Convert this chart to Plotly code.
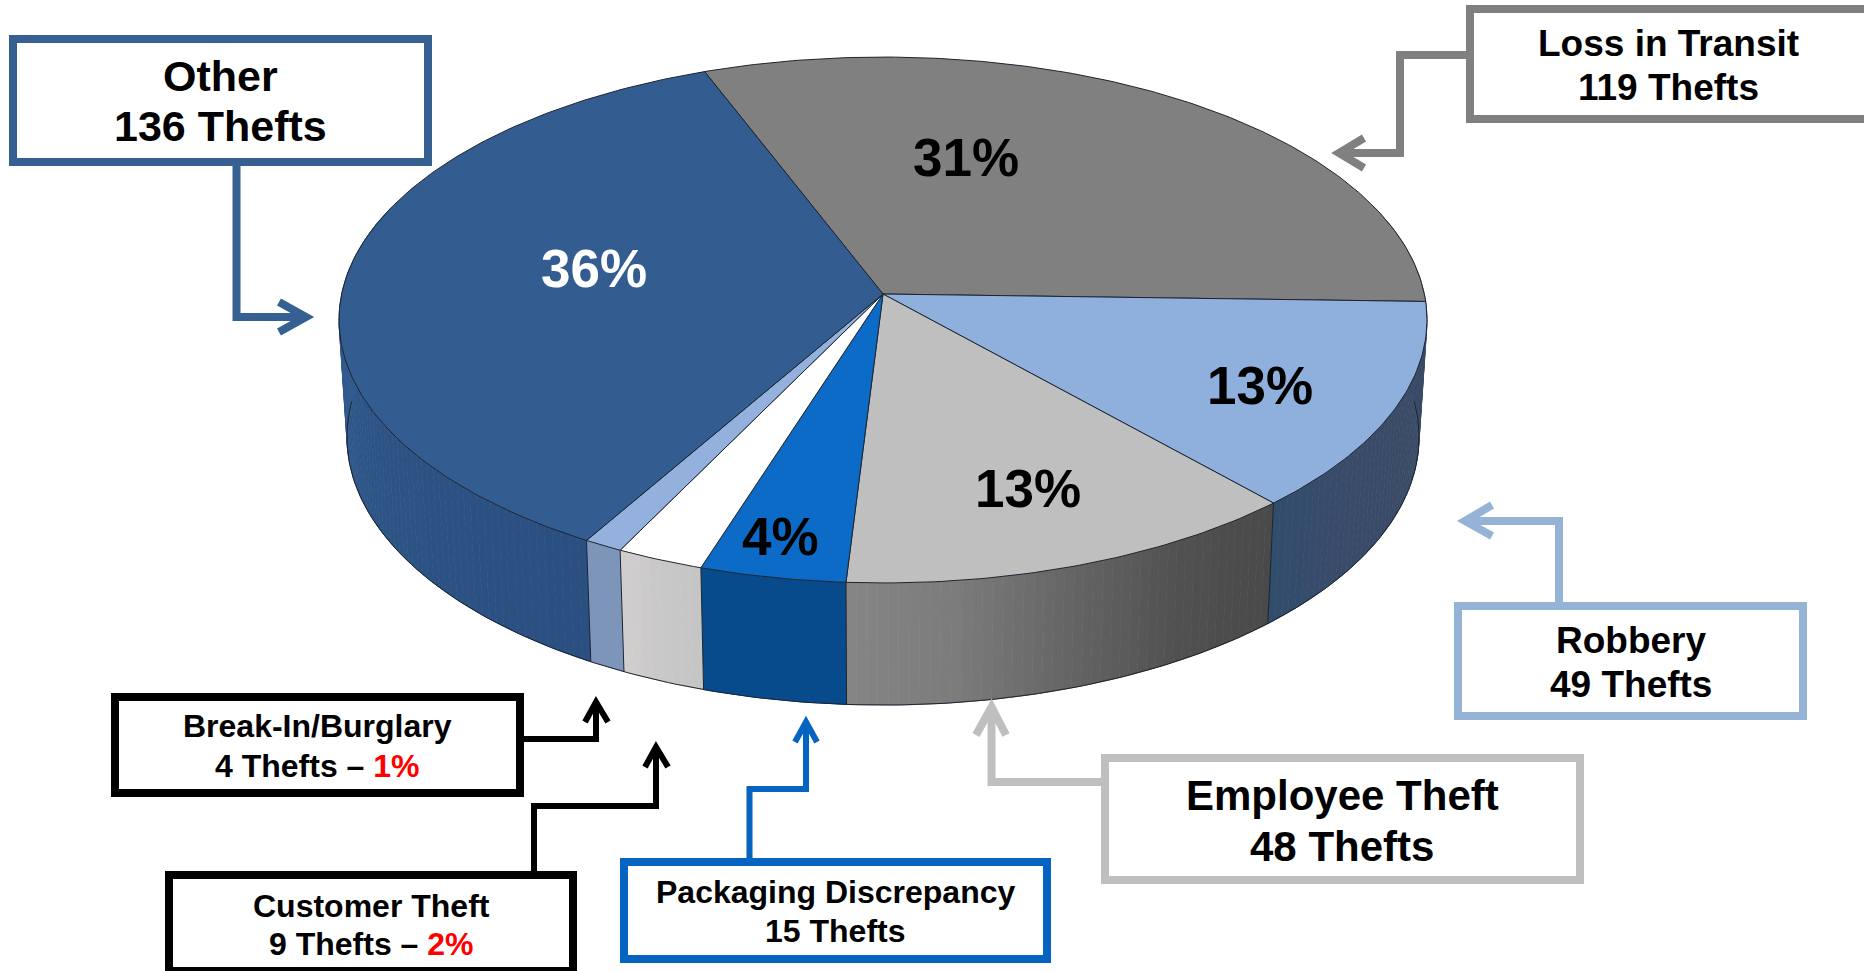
import math
import plotly.graph_objects as go

# ---------- data ----------
CATEGORIES = ["Loss in Transit", "Robbery", "Employee Theft", "Packaging Discrepancy",
              "Customer Theft", "Break-In/Burglary", "Other"]
THEFTS = [119, 49, 48, 15, 9, 4, 136]
TOP_COLORS = ["#808080", "#8FB0DC", "#BFBFBF", "#0D6BC8", "#FFFFFF", "#93B1DC", "#335D91"]
SIDE_COLORS = [
    ["#6E6E6E"],
    ["#3A4B67", "#3A4B67", "#3A4B67", "#394B69", "#314D6C"],
    ["#4A4A4A", "#505050", "#636363", "#7A7A7A", "#858585"],
    ["#074B8C"],
    ["#C5C5C5", "#C8C8C8", "#D2CECE"],
    ["#7E95BA"],
    ["#2A4F80", "#2C5283", "#2E5587", "#325C90", "#335E92"],
]
PCT_COLORS = ["#000000", "#000000", "#000000", "#000000", None, None, "#FFFFFF"]
PCT_POS = [(966, 157), (1260, 385), (1028, 488), (780, 536), None, None, (594, 268)]

# ---------- projection of the tilted disc ----------
START = -21.1
K = -0.0989
CX = 883
TOP = dict(c=541.3, a=231.3, b=294.0)
BOT = dict(c=533.4, a=224.8, b=410.5)


def proj(deg, plane):
    t = math.radians(deg)
    u, v = math.sin(t), -math.cos(t)
    d = 1 + K * v
    return CX + plane["c"] * u / d, (plane["a"] * v + plane["b"]) / d


def arc(a0, a1, plane):
    n = max(2, int(abs(a1 - a0) / 0.75) + 1)
    pts = [proj(a0 + (a1 - a0) * i / (n - 1), plane) for i in range(n)]
    return [p[0] for p in pts], [p[1] for p in pts]


def mix(stops, f):
    if len(stops) == 1:
        return stops[0]
    rgb = [tuple(int(s[i:i + 2], 16) for i in (1, 3, 5)) for s in stops]
    p = f * (len(rgb) - 1)
    i = min(int(p), len(rgb) - 2)
    w = p - i
    return "rgb(%d,%d,%d)" % tuple(round(rgb[i][j] * (1 - w) + rgb[i + 1][j] * w) for j in range(3))


total = sum(THEFTS)
bounds = [START]
for val in THEFTS:
    bounds.append(bounds[-1] + 360 * val / total)

fig = go.Figure()
EDGE = "#1C2530"
SIDE_FROM, SIDE_TO = 70, 290

# side walls, as shaded strips
for i, stops in enumerate(SIDE_COLORS):
    a0, a1 = max(bounds[i], SIDE_FROM), min(bounds[i + 1], SIDE_TO)
    if a1 <= a0:
        continue
    n = 1 if len(stops) == 1 else max(2, int((a1 - a0) / 1.0))
    for s in range(n):
        b0 = a0 + (a1 - a0) * s / n
        b1 = a0 + (a1 - a0) * (s + 1) / n
        tx, ty = arc(b0, b1, TOP)
        bx, by = arc(b1, b0, BOT)
        col = mix(stops, (s + 0.5) / n)
        fig.add_trace(go.Scatter(x=tx + bx, y=ty + by, mode="lines", fill="toself",
                                 fillcolor=col, line=dict(color=col, width=1),
                                 hoverinfo="skip", showlegend=False))

# side wall edges
for deg in bounds[1:-1]:
    if 95 < deg < 265:
        p, q = proj(deg, TOP), proj(deg, BOT)
        fig.add_trace(go.Scatter(x=[p[0], q[0]], y=[p[1], q[1]], mode="lines",
                                 line=dict(color=EDGE, width=1),
                                 hoverinfo="skip", showlegend=False))
bx, by = arc(88, 272, BOT)
fig.add_trace(go.Scatter(x=bx, y=by, mode="lines", line=dict(color=EDGE, width=1),
                         hoverinfo="skip", showlegend=False))

# top faces
for i, col in enumerate(TOP_COLORS):
    ax, ay = arc(bounds[i], bounds[i + 1], TOP)
    fig.add_trace(go.Scatter(x=[CX] + ax + [CX], y=[TOP["b"]] + ay + [TOP["b"]], mode="lines",
                             fill="toself", fillcolor=col, line=dict(color=EDGE, width=1),
                             name=CATEGORIES[i], hoverinfo="skip", showlegend=False))

# ---------- callouts: box (outer edges), border, colour, connector path, text lines ----------
CALLOUTS = [
    dict(i=6, box=(9, 35, 432, 166), w=8, lw=8, col="#376092", size=43, cx=220, ys=(76, 126),
         path=[(236.5, 166), (236.5, 317), (302, 317)], wings=[(279, 302), (306, 317), (279, 332)]),
    dict(i=0, box=(1466, 5, 1880, 123), w=8, lw=8, col="#808080", size=37, cx=1668, ys=(43, 87),
         path=[(1466, 55), (1400, 55), (1400, 153), (1343, 153)], wings=[(1364, 138), (1339, 153), (1364, 168)]),
    dict(i=1, box=(1454, 602, 1807, 720), w=8, lw=8, col="#95B3D7", size=37, cx=1631, ys=(640, 684),
         path=[(1559, 602), (1559, 521), (1469, 521)], wings=[(1492, 505), (1465, 521), (1492, 536)]),
    dict(i=2, box=(1101, 754, 1584, 884), w=8, lw=8, col="#BFBFBF", size=42, cx=1342, ys=(795, 846),
         path=[(1101, 782), (991.5, 782), (991.5, 711)], wings=[(976, 735), (991.5, 707), (1006, 735)]),
    dict(i=3, box=(620, 858, 1051, 963), w=8, lw=6, col="#0563C1", size=32, cx=835, ys=(892, 931),
         path=[(749.5, 858), (749.5, 789), (806, 789), (806, 725)], wings=[(795, 742), (806, 722), (817, 742)]),
    dict(i=4, box=(165, 871, 577, 975), w=8, lw=6, col="#000000", size=32, cx=371, ys=(906, 944), red=True,
         path=[(534, 871), (534, 806), (656, 806), (656, 750)], wings=[(645, 767), (656, 747), (668, 767)]),
    dict(i=5, box=(111, 693, 524, 797), w=8, lw=6, col="#000000", size=32, cx=317.5, ys=(726, 766), red=True,
         path=[(524, 739), (596, 739), (596, 705)], wings=[(585, 722), (596, 702), (608, 722)]),
]

shapes, annotations = [], []
FONT = "Liberation Sans, Arial, sans-serif"


def path_of(pts):
    return "M" + " L".join("%g,%g" % p for p in pts)


for c in CALLOUTS:
    x0, y0, x1, y1 = c["box"]
    h = c["w"] / 2
    shapes.append(dict(type="path", path=path_of(c["path"]), line=dict(color=c["col"], width=c["lw"])))
    shapes.append(dict(type="path", path=path_of(c["wings"]), line=dict(color=c["col"], width=c["lw"])))
    shapes.append(dict(type="rect", x0=x0 + h, y0=y0 + h, x1=x1 - h, y1=y1 - h,
                       fillcolor="#FFFFFF", line=dict(color=c["col"], width=c["w"])))
    val = THEFTS[c["i"]]
    second = "%d Thefts" % val
    if c.get("red"):
        second += " – <span style='color:#FF0000'>%d%%</span>" % round(100 * val / total)
    for text, y in zip((CATEGORIES[c["i"]], second), c["ys"]):
        annotations.append(dict(x=c["cx"], y=y, text="<b>%s</b>" % text, showarrow=False,
                                xanchor="center", yanchor="middle",
                                font=dict(family=FONT, size=c["size"], color="#000000")))

for i, pos in enumerate(PCT_POS):
    if pos:
        annotations.append(dict(x=pos[0], y=pos[1], text="<b>%d%%</b>" % round(100 * THEFTS[i] / total),
                                showarrow=False, xanchor="center", yanchor="middle",
                                font=dict(family=FONT, size=53, color=PCT_COLORS[i])))

fig.update_layout(
    width=1864, height=971, margin=dict(l=0, r=0, t=0, b=0),
    paper_bgcolor="#FFFFFF", plot_bgcolor="#FFFFFF", showlegend=False,
    xaxis=dict(range=[0, 1864], visible=False, fixedrange=True),
    yaxis=dict(range=[971, 0], visible=False, fixedrange=True),
    shapes=shapes, annotations=annotations,
)
fig.write_html("out.html", post_script="document.body.style.margin='0';document.body.style.overflow='hidden';",
               config=dict(displayModeBar=False))
